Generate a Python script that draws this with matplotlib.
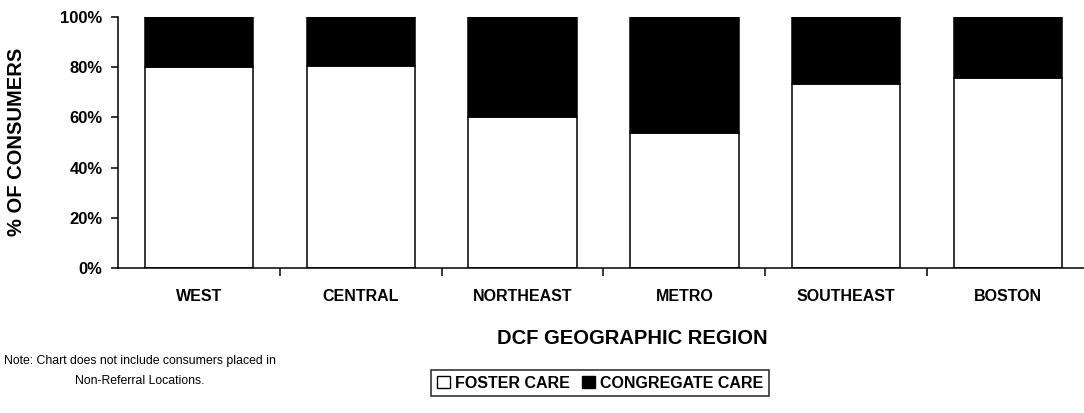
import numpy as np
import matplotlib
matplotlib.use("Agg")
from matplotlib import pyplot as plt
from matplotlib.patches import Patch
from matplotlib.ticker import FixedLocator, NullFormatter

regions = ["WEST", "CENTRAL", "NORTHEAST", "METRO", "SOUTHEAST", "BOSTON"]
foster_care = [80.1, 80.5, 60.1, 53.7, 73.5, 75.8]
congregate_care = [100 - v for v in foster_care]
y_ticks = [0, 20, 40, 60, 80, 100]

plt.rcParams['font.family'] = ['Liberation Sans Narrow', 'Liberation Sans', 'DejaVu Sans']

fig = plt.figure(figsize=(10.84, 4.13), dpi=100)
W, H = 1084, 413
# axes spans x 118..1089 px, y 17..268 px
ax = fig.add_axes([118 / W, (H - 268) / H, (1089 - 118) / W, (268 - 17) / H])

x = np.arange(len(regions))
ax.bar(x, foster_care, width=0.67, color='white', edgecolor='black', linewidth=1.1)
ax.bar(x, congregate_care, bottom=foster_care, width=0.67, color='black', edgecolor='black', linewidth=1.1)

ax.set_xlim(-0.5, len(regions) - 0.5)
ax.set_ylim(0, 100)
for side in ['top', 'right']:
    ax.spines[side].set_visible(False)
ax.spines['left'].set_linewidth(1.1)
ax.spines['bottom'].set_linewidth(1.1)

ax.set_yticks(y_ticks)
ax.set_yticklabels([f"{v}%" for v in y_ticks], fontsize=12, fontweight='bold')
ax.tick_params(axis='y', length=5, width=1.1, pad=6)

# category labels centred, ticks between categories
ax.set_xticks(x)
ax.set_xticklabels(regions, fontsize=11.5, fontweight='bold')
ax.tick_params(axis='x', which='major', length=0, pad=15)
ax.xaxis.set_minor_locator(FixedLocator(x[:-1] + 0.5))
ax.xaxis.set_minor_formatter(NullFormatter())
ax.tick_params(axis='x', which='minor', length=6, width=1.1)

fig.text(17 / W, 1 - 142 / H, "% OF CONSUMERS", rotation=90, ha='center', va='center',
         fontsize=14.5, fontweight='bold')
fig.text(632 / W, 1 - 338 / H, "DCF GEOGRAPHIC REGION", ha='center', va='center',
         fontsize=14.5, fontweight='bold')

fig.text(140 / W, 1 - 361 / H, "Note: Chart does not include consumers placed in",
         ha='center', va='center', fontsize=8.8)
fig.text(140 / W, 1 - 381 / H, "Non-Referral Locations.", ha='center', va='center', fontsize=8.8)

handles = [Patch(facecolor='white', edgecolor='black', linewidth=1),
           Patch(facecolor='black', edgecolor='black', linewidth=1)]
leg = fig.legend(handles, ["FOSTER CARE", "CONGREGATE CARE"], loc='center',
                 bbox_to_anchor=(600 / W, 1 - 383 / H), ncol=2, frameon=True,
                 fancybox=False, handlelength=0.8, handleheight=0.8, handletextpad=0.3,
                 columnspacing=0.8, borderpad=0.35, prop={'size': 11.5, 'weight': 'bold'})
leg.get_frame().set_edgecolor('black')
leg.get_frame().set_linewidth(1.2)

fig.savefig("out.png", dpi=100)
